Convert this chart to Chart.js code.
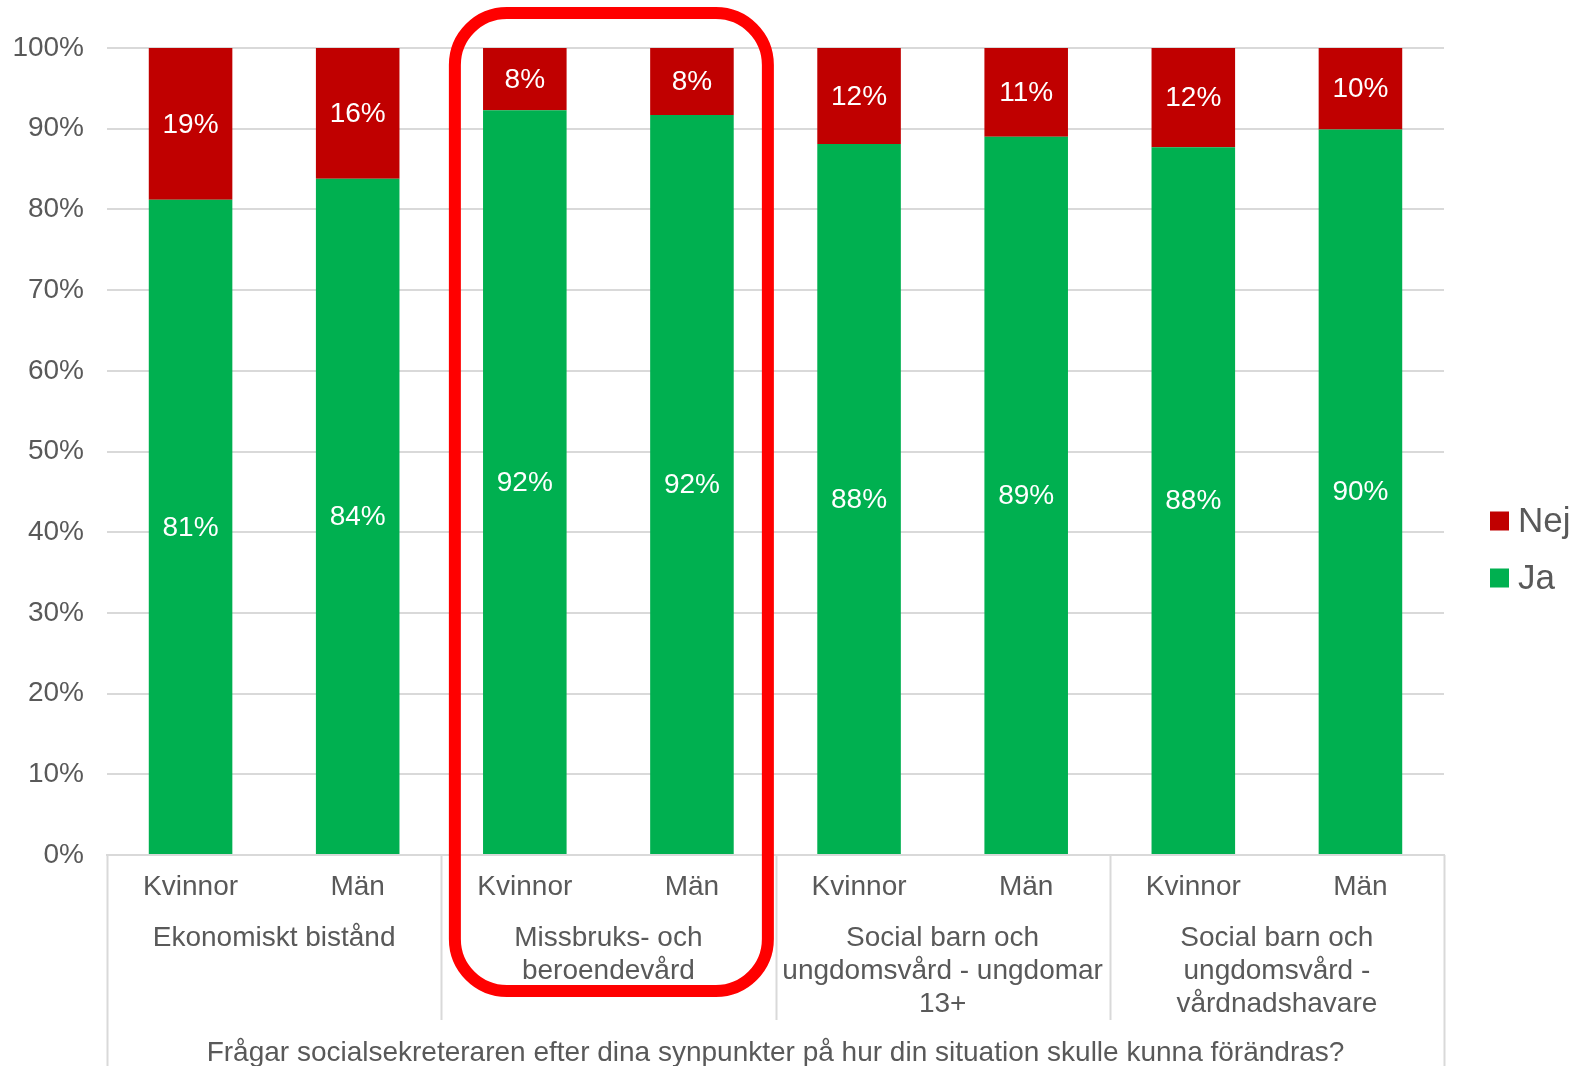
<!DOCTYPE html>
<html>
<head>
<meta charset="utf-8">
<script src="https://cdn.jsdelivr.net/npm/chart.js@4.4.1/dist/chart.umd.min.js"></script>
<style>
    body { margin: 0; background: #fff; }
    #wrap { width: 1576px; height: 1066px; }
</style>
</head>
<body>
<div id="wrap"><canvas id="chart" width="1576" height="1066"></canvas></div>
<script>
// Categories (two levels)
const genders = ['Kvinnor', 'Män', 'Kvinnor', 'Män', 'Kvinnor', 'Män', 'Kvinnor', 'Män'];
const groups = [
    ['Ekonomiskt bistånd'],
    ['Missbruks- och', 'beroendevård'],
    ['Social barn och', 'ungdomsvård - ungdomar', '13+'],
    ['Social barn och', 'ungdomsvård -', 'vårdnadshavare']
];
const axisTitle = 'Frågar socialsekreteraren efter dina synpunkter på hur din situation skulle kunna förändras?';

// Series values (percent)
const jaValues = [81.2, 83.8, 92.3, 91.7, 88.1, 89.0, 87.7, 89.9];
const nejValues = [18.8, 16.2, 7.7, 8.3, 11.9, 11.0, 12.3, 10.1];
const jaLabels = [81, 84, 92, 92, 88, 89, 88, 90];
const nejLabels = [19, 16, 8, 8, 12, 11, 12, 10];

const FONT = '"Liberation Sans", Arial, sans-serif';
const TEXT = '#595959';
const GRID = '#d9d9d9';
const RED = '#C00000';
const GREEN = '#00B050';

// Labels inside the bar segments
const valueLabels = {
    id: 'valueLabels',
    afterDatasetsDraw(chart) {
        const ctx = chart.ctx;
        ctx.save();
        ctx.font = '28px ' + FONT;
        ctx.fillStyle = '#fff';
        ctx.textAlign = 'center';
        ctx.textBaseline = 'middle';
        chart.data.datasets.forEach((ds, di) => {
            const meta = chart.getDatasetMeta(di);
            const labels = di === 0 ? jaLabels : nejLabels;
            meta.data.forEach((bar, i) => {
                ctx.fillText(labels[i] + '%', bar.x, (bar.y + bar.base) / 2 + 1);
            });
        });
        ctx.restore();
    }
};

// Multi-level x axis, legend and highlight box
const extras = {
    id: 'extras',
    afterDraw(chart) {
        const ctx = chart.ctx;
        const x = chart.scales.x;
        const area = chart.chartArea;
        const catW = x.getPixelForValue(1) - x.getPixelForValue(0);
        ctx.save();

        // separators
        ctx.strokeStyle = GRID;
        ctx.lineWidth = 2;
        for (let g = 0; g <= groups.length; g++) {
            const px = Math.round(x.getPixelForValue(g * 2) - catW / 2) + 0.5;
            const end = (g === 0 || g === groups.length) ? chart.height : area.bottom + 165;
            ctx.beginPath();
            ctx.moveTo(px, area.bottom);
            ctx.lineTo(px, end);
            ctx.stroke();
        }

        ctx.fillStyle = TEXT;
        ctx.textAlign = 'center';
        ctx.textBaseline = 'middle';
        ctx.font = '28px ' + FONT;
        genders.forEach((g, i) => {
            ctx.fillText(g, x.getPixelForValue(i), area.bottom + 32);
        });
        groups.forEach((lines, g) => {
            const cx = (x.getPixelForValue(g * 2) + x.getPixelForValue(g * 2 + 1)) / 2;
            lines.forEach((t, li) => {
                ctx.fillText(t, cx, area.bottom + 83 + li * 33);
            });
        });
        ctx.fillText(axisTitle, (area.left + area.right) / 2, area.bottom + 198);

        // legend
        const legend = [['Nej', RED], ['Ja', GREEN]];
        ctx.font = '35px ' + FONT;
        ctx.textAlign = 'left';
        legend.forEach(([name, color], i) => {
            const cy = 521 + i * 57;
            ctx.fillStyle = color;
            ctx.fillRect(area.right + 46, cy - 9.5, 19, 19);
            ctx.fillStyle = TEXT;
            ctx.fillText(name, area.right + 74, cy + 1);
        });

        // highlight box around second group
        const gx = (x.getPixelForValue(2) + x.getPixelForValue(3)) / 2 + 3;
        const left = gx - 156.5, right = gx + 156.5;
        const top = 13, bottom = 991, r = 52;
        ctx.strokeStyle = '#FF0000';
        ctx.lineWidth = 12;
        ctx.beginPath();
        ctx.roundRect(left, top, right - left, bottom - top, r);
        ctx.stroke();

        ctx.restore();
    }
};

new Chart(document.getElementById('chart'), {
    type: 'bar',
    data: {
        labels: genders,
        datasets: [
            { label: 'Ja', data: jaValues, backgroundColor: GREEN },
            { label: 'Nej', data: nejValues, backgroundColor: RED }
        ]
    },
    options: {
        responsive: false,
        animation: false,
        layout: { padding: { top: 48, right: 132, left: 0, bottom: 0 } },
        datasets: { bar: { categoryPercentage: 0.5, barPercentage: 1 } },
        scales: {
            x: {
                stacked: true,
                grid: { display: false },
                border: { display: true, color: GRID, width: 2 },
                ticks: { display: false },
                afterFit: (s) => { s.height = 211; }
            },
            y: {
                stacked: true,
                min: 0,
                max: 100,
                grid: { color: GRID, lineWidth: 2, drawTicks: false },
                border: { display: false },
                ticks: {
                    stepSize: 10,
                    padding: 23,
                    color: TEXT,
                    font: { family: FONT, size: 28 },
                    callback: (v) => v + '%'
                },
                afterFit: (s) => { s.width = 107; }
            }
        },
        plugins: {
            legend: { display: false },
            tooltip: { enabled: false }
        }
    },
    plugins: [valueLabels, extras]
});
</script>
</body>
</html>
